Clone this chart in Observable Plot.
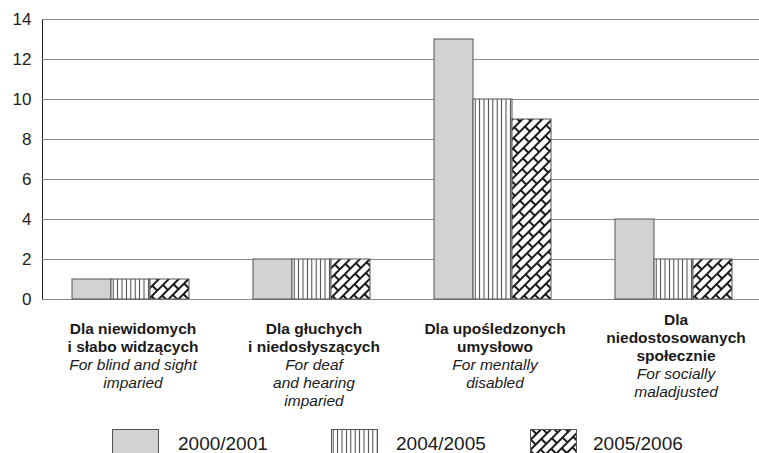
<!DOCTYPE html>
<html>
<head>
<meta charset="utf-8">
<script src="https://cdn.jsdelivr.net/npm/d3@7"></script>
<script src="https://cdn.jsdelivr.net/npm/@observablehq/plot@0.6"></script>
<style>
  html, body { margin: 0; padding: 0; background: #fff; }
  #wrap { position: relative; width: 759px; height: 453px; overflow: hidden; font-family: "Liberation Sans", Arial, sans-serif; }
  #legend { position: absolute; left: 0; top: 415px; width: 759px; height: 38px; }
  .sw { position: absolute; top: 14px; }
  .lt { position: absolute; top: 19px; font-size: 19px; line-height: 19px; color: #1a1a1a; white-space: nowrap; }
</style>
</head>
<body>
<svg width="0" height="0" style="position:absolute">
  <defs>
    <pattern id="vlines" patternUnits="userSpaceOnUse" width="4.4" height="10">
      <rect width="4.4" height="10" fill="#fff"/>
      <line x1="2.2" y1="0" x2="2.2" y2="10" stroke="#444" stroke-width="1"/>
    </pattern>
    <pattern id="bricks" patternUnits="userSpaceOnUse" width="16" height="14" patternTransform="rotate(-45)">
      <rect width="16" height="14" fill="#fff"/>
      <g stroke="#1a1a1a" stroke-width="2" fill="none">
        <line x1="0" y1="1" x2="16" y2="1"/>
        <line x1="0" y1="8" x2="16" y2="8"/>
        <line x1="1" y1="1" x2="1" y2="8"/>
        <line x1="9" y1="8" x2="9" y2="15"/>
      </g>
    </pattern>
  </defs>
</svg>
<div id="wrap">
  <div id="chart"></div>
  <div id="legend"></div>
</div>
<script>
const categories = ["niewidomi", "gluchy", "uposledzeni", "niedostosowani"];
const labelsPl = [
  "Dla niewidomych\ni słabo widzących",
  "Dla głuchych\ni niedosłyszących",
  "Dla upośledzonych\numysłowo",
  "Dla\nniedostosowanych\nspołecznie"
];
const labelsEn = [
  "For blind and sight\nimparied",
  "For deaf\nand hearing\nimparied",
  "For mentally\ndisabled",
  "For socially\nmaladjusted"
];
const seriesNames = ["2000/2001", "2004/2005", "2005/2006"];
const values2000 = [1, 2, 13, 4];
const values2004 = [1, 2, 10, 2];
const values2005 = [1, 2, 9, 2];
const yTicks = [0, 2, 4, 6, 8, 10, 12, 14];
const seriesFills = ["#d1d2d4", "url(#vlines)", "url(#bricks)"];

const seriesValues = [values2000, values2004, values2005];
const data = [];
categories.forEach((c, i) => {
  seriesNames.forEach((s, j) => data.push({cat: c, series: s, value: seriesValues[j][i]}));
});
const labels = categories.map((c, i) => {
  const nPl = labelsPl[i].split("\n").length;
  return {cat: c, pl: labelsPl[i], en: "\n".repeat(nPl) + labelsEn[i], nPl};
});

const font = {fontSize: 15.5, lineHeight: 1.16, frameAnchor: "bottom", lineAnchor: "top", fill: "#1a1a1a"};

const chart = Plot.plot({
  width: 759,
  height: 415,
  marginLeft: 41,
  marginRight: 0,
  marginTop: 19,
  marginBottom: 116,
  style: {fontFamily: "Liberation Sans, Arial, sans-serif", fontSize: "17px", color: "#222", background: "#fff"},
  fx: {domain: categories, range: [41, 767], padding: 0, axis: null, label: null},
  x: {domain: seriesNames, paddingInner: 0, paddingOuter: 0.77, align: 0.47, axis: null},
  y: {domain: [0, 14], ticks: yTicks, tickSize: 0, tickPadding: 11, line: true, label: null},
  color: {domain: seriesNames, range: seriesFills},
  marks: [
    Plot.ruleY(yTicks, {stroke: "#8a8a8a", strokeWidth: 1, strokeOpacity: 1}),
    Plot.barY(data, {fx: "cat", x: "series", y: "value", fill: "series", stroke: "#555", strokeWidth: 1}),
    Plot.text(labels.filter(d => d.nPl <= 2), {fx: "cat", text: "pl", fontWeight: "bold", dy: 22, ...font}),
    Plot.text(labels.filter(d => d.nPl > 2), {fx: "cat", text: "pl", fontWeight: "bold", dy: 13, ...font}),
    Plot.text(labels.filter(d => d.nPl <= 2), {fx: "cat", text: "en", fontStyle: "italic", dy: 22, ...font}),
    Plot.text(labels.filter(d => d.nPl > 2), {fx: "cat", text: "en", fontStyle: "italic", dy: 13, ...font})
  ]
});
document.getElementById("chart").appendChild(chart);

// legend
const legendPos = [[112, 178], [331, 396], [530, 593]];
const legend = document.getElementById("legend");
seriesNames.forEach((s, i) => {
  const sw = document.createElementNS("http://www.w3.org/2000/svg", "svg");
  sw.setAttribute("class", "sw");
  sw.setAttribute("width", 48);
  sw.setAttribute("height", 26);
  sw.style.left = legendPos[i][0] + "px";
  sw.innerHTML = `<rect x="0.5" y="0.5" width="46" height="30" fill="${seriesFills[i]}" stroke="#555" stroke-width="1"/>`;
  legend.appendChild(sw);
  const t = document.createElement("span");
  t.className = "lt";
  t.style.left = legendPos[i][1] + "px";
  t.textContent = s;
  legend.appendChild(t);
});
</script>
</body>
</html>
